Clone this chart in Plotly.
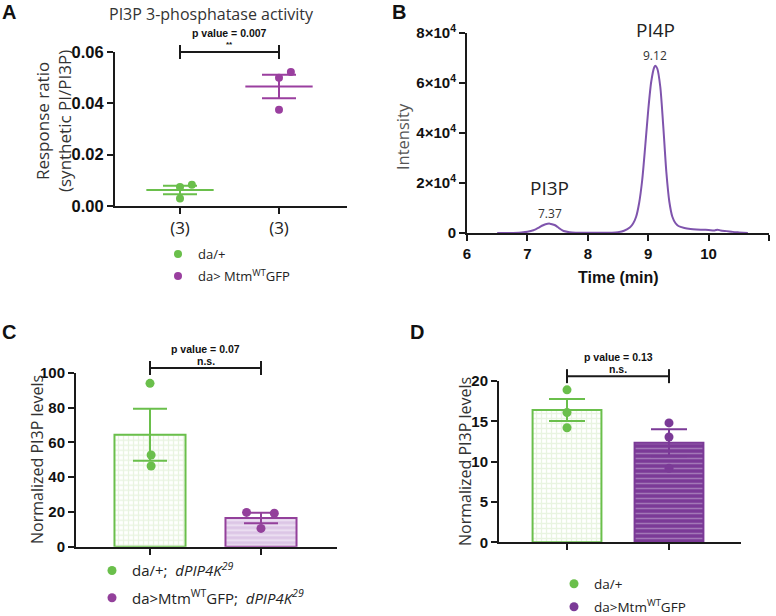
import numpy as np
import plotly.graph_objects as go

W, H = 776, 616

# ---------------- data ----------------
# Panel A
a_groups = ["da/+", "da> Mtm<sup>WT</sup>GFP"]
a_ticklabels = ["(3)", "(3)"]
a_green = [0.0074, 0.0083, 0.0029]
a_purple = [0.0500, 0.0522, 0.0375]
a_p_text = "p value = 0.007"
a_sig = "**"
a_title = "PI3P 3-phosphatase activity"

# Panel B (chromatogram)
b_time = [6.50, 6.70, 6.90, 7.00, 7.10, 7.20, 7.25, 7.30, 7.37, 7.45, 7.50, 7.55, 7.60,
          7.70, 7.80, 8.00, 8.20, 8.40, 8.50, 8.60, 8.70, 8.75, 8.80, 8.85, 8.90, 8.95,
          9.00, 9.05, 9.10, 9.12, 9.15, 9.20, 9.25, 9.30, 9.35, 9.40, 9.45, 9.50, 9.60,
          9.70, 9.80, 9.90, 10.00, 10.10, 10.15, 10.20, 10.30, 10.40, 10.50, 10.65]
b_intensity = [0, 50, 250, 500, 1100, 2300, 3000, 3500, 3750, 3200, 2400, 1500, 800,
               300, 150, 80, 60, 150, 350, 900, 2300, 3800, 6500, 12000, 21000, 34500,
               49000, 60500, 66300, 66900, 65800, 58500, 42500, 24500, 12500, 6500, 4000, 2800, 2000,
               1600, 1400, 1300, 1200, 1050, 1350, 1000, 750, 450, 250, 0]
b_peak_times = [7.37, 9.12]
b_peak_names = ["PI3P", "PI4P"]
b_yticks = [0, 20000, 40000, 60000, 80000]
b_yticktext = ["0", "2×10<sup>4</sup>", "4×10<sup>4</sup>", "6×10<sup>4</sup>", "8×10<sup>4</sup>"]
b_xticks = [6, 7, 8, 9, 10, 11]

# Panel C
c_groups = ["da/+;  <i>dPIP4K<sup>29</sup></i>",
            "da>Mtm<sup>WT</sup>GFP;  <i>dPIP4K<sup>29</sup></i>"]
c_green = [93.9, 52.7, 46.4]
c_purple = [19.7, 19.2, 10.5]
c_p_text = "p value = 0.07"
c_sig = "n.s."

# Panel D
d_groups = ["da/+", "da>Mtm<sup>WT</sup>GFP"]
d_green = [18.9, 16.1, 14.2]
d_purple = [14.8, 13.06, 9.17]
d_p_text = "p value = 0.13"
d_sig = "n.s."

# ---------------- styles / layout ----------------
GREEN = "#6abf4b"
PURPLE_A = "#9a3f9f"
PURPLE_C = "#93409b"
PURPLE_D = "#7b3a97"
LINE_B = "#7f54ad"
AX = "#1a1a1a"
TXT = "Open Sans"
NUM = "Liberation Sans"

# panel geometry in pixels: (x_left, x_right, y_top, y_bottom)
geomA = (115, 347, 52, 206)
geomB = (467, 769, 33, 233)
geomC = (76, 337, 372.7, 546.7)
geomD = (499, 741, 381, 542.3)
rngA = ([0.3434, 2.6869], [0, 0.06])
rngB = ([6, 11], [0, 80000])
rngC = ([0.3333, 2.6847], [0, 100])
rngD = ([0.3333, 2.7059], [0, 20])

jitA_green = [0, 0.12, 0]
jitA_purple = [0, 0.12, 0]
jitC_green = [0, 0.01, 0.01]
jitC_purple = [-0.13, 0.12, 0]
jitD_green = [0, 0, 0]
jitD_purple = [0, 0, 0]


def dom(g):
    return [g[0] / W, g[1] / W], [1 - g[3] / H, 1 - g[2] / H]


def px_x(v, g, r):
    return g[0] + (v - r[0][0]) / (r[0][1] - r[0][0]) * (g[1] - g[0])


def px_y(v, g, r):
    return g[3] - (v - r[1][0]) / (r[1][1] - r[1][0]) * (g[3] - g[2])


def mean_sem(vals):
    a = np.asarray(vals, dtype=float)
    return a.mean(), a.std(ddof=1) / np.sqrt(len(a))


fig = go.Figure()

axis_common = dict(showline=True, linecolor=AX, linewidth=2, ticks="outside", ticklen=6,
                   tickwidth=2, tickcolor=AX, showgrid=False, zeroline=False, fixedrange=True,
                   automargin=False,
                   tickfont=dict(family=NUM, size=15, color="#111", weight="bold"))

# ---------------- Panel A ----------------
for i, (vals, jit, col, lg) in enumerate([(a_green, jitA_green, GREEN, "legend"),
                                          (a_purple, jitA_purple, PURPLE_A, "legend2")]):
    xi = i + 1
    m, s = mean_sem(vals)
    fig.add_trace(go.Scatter(x=[xi - 0.34, xi + 0.34], y=[m, m], mode="lines",
                             line=dict(color=col, width=2), xaxis="x", yaxis="y",
                             showlegend=False, hoverinfo="skip"))
    fig.add_trace(go.Scatter(x=[xi], y=[m], mode="markers",
                             marker=dict(size=1, color="rgba(0,0,0,0)"),
                             error_y=dict(type="data", array=[s], color=col, thickness=2, width=17),
                             xaxis="x", yaxis="y", showlegend=False, hoverinfo="skip"))
    fig.add_trace(go.Scatter(x=[xi + j for j in jit], y=vals, mode="markers",
                             marker=dict(size=8, color=col), name=a_groups[i],
                             xaxis="x", yaxis="y", legend=lg, showlegend=True))

# ---------------- Panel B ----------------
fig.add_trace(go.Scatter(x=b_time, y=b_intensity, mode="lines",
                         line=dict(color=LINE_B, width=2, shape="spline", smoothing=0.7),
                         xaxis="x2", yaxis="y2", showlegend=False))

# ---------------- Panels C & D ----------------
def bar_panel(xa, ya, groups, greens, purples, jits, purple, pat_p, bw, psize, legs, capw):
    for i, (vals, jit, col) in enumerate([(greens, jits[0], GREEN), (purples, jits[1], purple)]):
        xi = i + 1
        m, s = mean_sem(vals)
        if i == 0:
            pat = dict(shape="+", fgcolor="#d3eac3", bgcolor="#ffffff", size=5, solidity=0.45)
        else:
            pat = pat_p
        fig.add_trace(go.Bar(x=[xi], y=[m], width=bw, xaxis=xa, yaxis=ya,
                             marker=dict(color="white", line=dict(color=col, width=2), pattern=pat),
                             showlegend=False, hoverinfo="skip"))
        fig.add_trace(go.Scatter(x=[xi], y=[m], mode="markers",
                                 marker=dict(size=1, color="rgba(0,0,0,0)"),
                                 error_y=dict(type="data", array=[s], color=col, thickness=2, width=capw),
                                 xaxis=xa, yaxis=ya, showlegend=False, hoverinfo="skip"))
        fig.add_trace(go.Scatter(x=[xi + j for j in jit], y=vals, mode="markers",
                                 marker=dict(size=psize, color=col), name=groups[i],
                                 xaxis=xa, yaxis=ya, legend=legs[i], showlegend=True))


bar_panel("x3", "y3", c_groups, c_green, c_purple, (jitC_green, jitC_purple), PURPLE_C,
          dict(shape="-", fgcolor="#ffffff", bgcolor="#dcc6e6", size=5, solidity=0.35),
          0.64, 9, ("legend3", "legend4"), 17)
bar_panel("x4", "y4", d_groups, d_green, d_purple, (jitD_green, jitD_purple), PURPLE_D,
          dict(shape="-", fgcolor="#c9b3d8", bgcolor="#7b3a97", size=5, solidity=0.3),
          0.675, 9, ("legend5", "legend6"), 18)

# ---------------- axes ----------------
dxA, dyA = dom(geomA)
dxB, dyB = dom(geomB)
dxC, dyC = dom(geomC)
dxD, dyD = dom(geomD)

fig.update_layout(
    xaxis=dict(axis_common, domain=dxA, range=rngA[0], anchor="y", tickvals=[1, 2],
               ticktext=a_ticklabels, tickfont=dict(family=TXT, size=17, color="#222", weight="normal")),
    yaxis=dict(axis_common, domain=dyA, range=rngA[1], anchor="x",
               tickvals=[0, 0.02, 0.04, 0.06], tickformat=".2f",
               tickfont=dict(family=NUM, size=16.5, color="#111", weight="bold")),
    xaxis2=dict(axis_common, domain=dxB, range=rngB[0], anchor="y2", tickvals=b_xticks),
    yaxis2=dict(axis_common, domain=dyB, range=rngB[1], anchor="x2",
                tickvals=b_yticks, ticktext=b_yticktext),
    xaxis3=dict(axis_common, domain=dxC, range=rngC[0], anchor="y3", tickvals=[1, 2],
                showticklabels=False),
    yaxis3=dict(axis_common, domain=dyC, range=rngC[1], anchor="x3",
                tickvals=[0, 20, 40, 60, 80, 100]),
    xaxis4=dict(axis_common, domain=dxD, range=rngD[0], anchor="y4", tickvals=[1, 2],
                showticklabels=False),
    yaxis4=dict(axis_common, domain=dyD, range=rngD[1], anchor="x4",
                tickvals=[0, 5, 10, 15, 20]),
)

# ---------------- legends (one item per legend) ----------------
leg_pos = {"legend": (178, 254, 13), "legend2": (178, 276, 13),
           "legend3": (112, 570.7, 15), "legend4": (112, 598, 15),
           "legend5": (574, 584, 13.5), "legend6": (574, 607, 13.5)}
for k, (mx, my, fs) in leg_pos.items():
    fig.update_layout({k: dict(x=(mx - 20) / W, y=1 - my / H, xanchor="left", yanchor="middle",
                               bgcolor="rgba(0,0,0,0)", borderwidth=0,
                               font=dict(family=TXT, size=fs, color="#222"))})

# ---------------- annotations & shapes ----------------
ann = []
shapes = []


def text_ann(x, y, text, font, angle=0, xanchor="center"):
    ann.append(dict(x=x / W, y=1 - y / H, xref="paper", yref="paper", text=text, showarrow=False,
                    xanchor=xanchor, yanchor="middle", textangle=angle, font=font))


def add_bracket(g, r, yval, ptxt, sig, sig_size):
    x1, x2 = px_x(1, g, r), px_x(2, g, r)
    y = px_y(yval, g, r)
    line = dict(color=AX, width=2)
    shapes.append(dict(type="line", xref="paper", yref="paper", x0=x1 / W, x1=x2 / W,
                       y0=1 - y / H, y1=1 - y / H, line=line))
    for xx in (x1, x2):
        shapes.append(dict(type="line", xref="paper", yref="paper", x0=xx / W, x1=xx / W,
                           y0=1 - (y - 7) / H, y1=1 - (y + 7) / H, line=line))
    xm = (x1 + x2) / 2
    text_ann(xm, y - 19, ptxt, dict(family=NUM, size=10.5, color="#111", weight="bold"))
    text_ann(xm, y - 7.5, sig, dict(family=NUM, size=sig_size, color="#111", weight="bold"))


add_bracket(geomA, rngA, 0.0600, a_p_text, a_sig, 8)
add_bracket(geomC, rngC, 102.7, c_p_text, c_sig, 10.5)
add_bracket(geomD, rngD, 20.6, d_p_text, d_sig, 10.5)

# panel letters
for letter, (lx, ly) in {"A": (9, 12), "B": (399, 12), "C": (9, 332), "D": (417, 332)}.items():
    text_ann(lx, ly, letter, dict(family=NUM, size=20, color="#111", weight="bold"))

# titles
text_ann(212, 14, a_title, dict(family=TXT, size=16, color="#333"))
text_ann(54, 121, "Response ratio<br>(synthetic PI/PI3P)", dict(family=TXT, size=17, color="#333"), -90)
text_ann(402, 137, "Intensity", dict(family=TXT, size=16.5, color="#555"), -90)
text_ann(618, 277, "Time (min)", dict(family=NUM, size=16, color="#111", weight="bold"))
text_ann(37, 460, "Normalized PI3P levels", dict(family=TXT, size=16, color="#333"), -90)
text_ann(465, 462, "Normalized PI3P levels", dict(family=TXT, size=16, color="#333"), -90)

# peak labels in panel B
for t, name in zip(b_peak_times, b_peak_names):
    idx = int(np.argmin(np.abs(np.asarray(b_time) - t)))
    peak = b_intensity[idx]
    ann.append(dict(x=t, y=peak, xref="x2", yref="y2", text=f"{t:.2f}", showarrow=False,
                    xanchor="center", yanchor="middle",
                    yshift=10, font=dict(family=TXT, size=12, color="#333")))
    ann.append(dict(x=t, y=peak, xref="x2", yref="y2", text=name, showarrow=False,
                    xanchor="center", yanchor="middle",
                    yshift=36, font=dict(family=TXT, size=19, color="#222")))

fig.update_layout(width=W, height=H, margin=dict(l=0, r=0, t=0, b=0, autoexpand=False),
                  plot_bgcolor="white", paper_bgcolor="white",
                  annotations=ann, shapes=shapes, barmode="overlay", hovermode=False)

fig.write_html("out.html", config={"displayModeBar": False},
               post_script="document.body.style.margin='0px';")
